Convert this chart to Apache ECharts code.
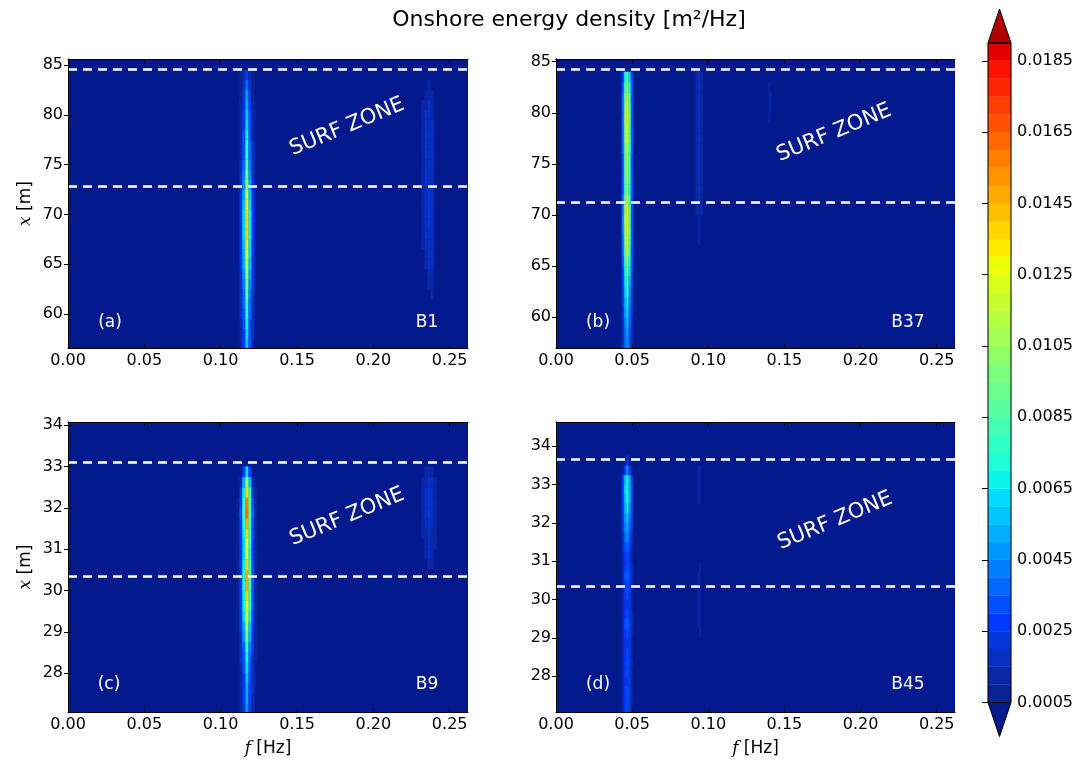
<!DOCTYPE html>
<html><head><meta charset="utf-8">
<script src="https://cdn.jsdelivr.net/npm/echarts@6/dist/echarts.min.js"></script>
<style>html,body{margin:0;padding:0;background:#fff}#c{width:1091px;height:761px}</style>
</head><body><div id="c"></div>
<script>
// ---------------- DATA ----------------
const xTicks = [0, 0.05, 0.10, 0.15, 0.20, 0.25];
const yTicksTop = [60, 65, 70, 75, 80, 85];
const yTicksBottom = [28, 29, 30, 31, 32, 33, 34];
const cbTicks = [0.0005, 0.0025, 0.0045, 0.0065, 0.0085, 0.0105, 0.0125, 0.0145, 0.0165, 0.0185];
const levels = [0.0005,0.0010,0.0015,0.0020,0.0025,0.0030,0.0035,0.0040,0.0045,0.0050,0.0055,0.0060,0.0065,0.0070,0.0075,0.0080,0.0085,0.0090,0.0095,0.0100,0.0105,0.0110,0.0115,0.0120,0.0125,0.0130,0.0135,0.0140,0.0145,0.0150,0.0155,0.0160,0.0165,0.0170,0.0175,0.0180,0.0185,0.0190];

// Panel (a) B1 : main peak near 0.117 Hz
const xA = [57,58,59,60,61,62,63,64,65,66,67,68,69,70,71,72,73,74,75,76,77,78,79,80,81,82,83,84];
const fA = [0.1133,0.1153,0.1173,0.1193,0.1213];
const eA = [
 [0.0012,0.0013,0.0014,0.0015,0.0016,0.0017,0.0018,0.0019,0.0020,0.0021,0.0022,0.0022,0.0023,0.0022,0.0022,0.0020,0.0018,0.0016,0.0015,0.0014,0.0013,0.0012,0.0012,0.0011,0.0010,0.0009,0.0008,0.0006],
 [0.0026,0.0028,0.0030,0.0032,0.0035,0.0038,0.0042,0.0046,0.0050,0.0054,0.0057,0.0060,0.0061,0.0060,0.0057,0.0051,0.0045,0.0040,0.0037,0.0034,0.0032,0.0030,0.0029,0.0027,0.0024,0.0021,0.0017,0.0012],
 [0.0055,0.0060,0.0066,0.0071,0.0077,0.0085,0.0094,0.0104,0.0114,0.0124,0.0130,0.0136,0.0138,0.0135,0.0130,0.0116,0.0100,0.0090,0.0082,0.0076,0.0071,0.0067,0.0063,0.0058,0.0052,0.0046,0.0038,0.0026],
 [0.0030,0.0032,0.0034,0.0036,0.0039,0.0043,0.0047,0.0052,0.0056,0.0060,0.0063,0.0066,0.0067,0.0066,0.0063,0.0057,0.0050,0.0045,0.0041,0.0038,0.0036,0.0034,0.0032,0.0030,0.0027,0.0023,0.0019,0.0013],
 [0.0014,0.0015,0.0016,0.0017,0.0018,0.0019,0.0020,0.0021,0.0022,0.0023,0.0024,0.0025,0.0025,0.0025,0.0024,0.0022,0.0020,0.0018,0.0017,0.0016,0.0015,0.0014,0.0013,0.0012,0.0011,0.0009,0.0008,0.0006]
];
// Panel (a) harmonic near 0.236 Hz
const xA2 = [62,63,64,65,66,67,68,69,70,71,72,73,74,75,76,77,78,79,80,81,82,83];
const fA2 = [0.2325,0.2345,0.2365,0.2385];
const eA2 = [
 [0,0,0,0,0,0.0011,0.0011,0.0011,0.0011,0.0011,0.0011,0.0011,0.0011,0.0011,0.0011,0.0011,0.0011,0.0011,0.0011,0.0011,0,0],
 [0,0,0,0.0011,0.0011,0.0016,0.0016,0.0016,0.0016,0.0016,0.0016,0.0016,0.0016,0.0016,0.0016,0.0016,0.0016,0.0016,0.0016,0.0011,0.0011,0],
 [0,0.0011,0.0011,0.0016,0.0016,0.0017,0.0017,0.0021,0.0021,0.0021,0.0021,0.0017,0.0017,0.0017,0.0017,0.0017,0.0017,0.0017,0.0016,0.0016,0.0011,0.0011],
 [0.0011,0.0012,0.0012,0.0016,0.0016,0.0016,0.0016,0.0019,0.0019,0.0019,0.0019,0.0016,0.0016,0.0016,0.0016,0.0016,0.0016,0.0016,0.0013,0.0013,0.0011,0]
];

// Panel (b) B37 : main peak near 0.047 Hz
const xB = [57.5,58.5,59.5,60.5,61.5,62.5,63.5,64.5,65.5,66.5,67.5,68.5,69.5,70.5,71.5,72.5,73.5,74.5,75.5,76.5,77.5,78.5,79.5,80.5,81.5,82.5,83.5];
const fB = [0.0440,0.0455,0.0470,0.0485,0.0500];
const eB = [
 [0.0015,0.0015,0.0017,0.0018,0.0020,0.0023,0.0025,0.0028,0.0031,0.0035,0.0038,0.0040,0.0040,0.0039,0.0035,0.0032,0.0032,0.0033,0.0034,0.0036,0.0038,0.0039,0.0039,0.0038,0.0035,0.0031,0.0026],
 [0.0036,0.0038,0.0041,0.0045,0.0051,0.0056,0.0061,0.0069,0.0078,0.0087,0.0094,0.0099,0.0100,0.0097,0.0087,0.0079,0.0080,0.0082,0.0085,0.0089,0.0094,0.0097,0.0097,0.0094,0.0087,0.0076,0.0066],
 [0.0048,0.0050,0.0055,0.0060,0.0068,0.0075,0.0082,0.0092,0.0104,0.0116,0.0126,0.0132,0.0134,0.0130,0.0116,0.0106,0.0107,0.0110,0.0114,0.0119,0.0125,0.0129,0.0130,0.0126,0.0116,0.0102,0.0088],
 [0.0031,0.0033,0.0036,0.0039,0.0044,0.0049,0.0053,0.0060,0.0068,0.0075,0.0082,0.0086,0.0087,0.0085,0.0075,0.0069,0.0070,0.0072,0.0074,0.0077,0.0081,0.0084,0.0085,0.0082,0.0075,0.0066,0.0057],
 [0.0012,0.0013,0.0014,0.0015,0.0017,0.0019,0.0021,0.0023,0.0026,0.0029,0.0032,0.0033,0.0034,0.0033,0.0029,0.0027,0.0027,0.0028,0.0029,0.0030,0.0031,0.0032,0.0033,0.0032,0.0029,0.0026,0.0022]
];
// Panel (b) harmonics near 0.094 Hz and 0.1405 Hz
const xB2 = [67.5,68.5,69.5,70.5,71.5,72.5,73.5,74.5,75.5,76.5,77.5,78.5,79.5,80.5,81.5,82.5,83.5];
const fB2 = [0.0925,0.0940,0.0955];
const eB2 = [
 [0,0,0,0.0011,0.0012,0.0012,0.0012,0.0012,0.0012,0.0012,0.0012,0.0012,0.0012,0.0012,0.0012,0.0012,0.0012],
 [0.0011,0.0011,0.0011,0.0013,0.0016,0.0016,0.0016,0.0016,0.0016,0.0016,0.0016,0.0016,0.0016,0.0016,0.0016,0.0016,0.0016],
 [0,0,0,0.0011,0.0012,0.0012,0.0012,0.0012,0.0012,0.0012,0.0012,0.0012,0.0012,0.0012,0.0012,0.0012,0.0012]
];
const xB3 = [79.5,80.5,81.5,82.5];
const fB3 = [0.1400,0.1410];
const eB3 = [[0.0011,0.0012,0.0012,0.0011],[0,0.0011,0.0011,0]];

// Panel (c) B9 : main peak near 0.117 Hz
const xC = [27.125,27.375,27.625,27.875,28.125,28.375,28.625,28.875,29.125,29.375,29.625,29.875,30.125,30.375,30.625,30.875,31.125,31.375,31.625,31.875,32.125,32.375,32.625,32.875];
const fC = [0.1113,0.1133,0.1153,0.1173,0.1193,0.1213,0.1233];
const eC = [
 [0,0,0,0,0,0,0,0,0.0007,0.0007,0.0007,0.0007,0.0007,0.0007,0.0007,0.0007,0.0007,0.0007,0.0007,0.0007,0.0007,0,0,0],
 [0.0012,0.0012,0.0013,0.0013,0.0014,0.0015,0.0017,0.0019,0.0021,0.0023,0.0025,0.0026,0.0028,0.0028,0.0026,0.0024,0.0025,0.0026,0.0028,0.0030,0.0029,0.0021,0.0010,0],
 [0.0024,0.0025,0.0026,0.0028,0.0030,0.0034,0.0039,0.0046,0.0054,0.0060,0.0065,0.0069,0.0074,0.0073,0.0068,0.0063,0.0064,0.0069,0.0074,0.0081,0.0079,0.0069,0.0050,0.0025],
 [0.0048,0.0050,0.0052,0.0055,0.0060,0.0068,0.0078,0.0092,0.0108,0.0120,0.0130,0.0138,0.0148,0.0146,0.0136,0.0126,0.0128,0.0138,0.0148,0.0162,0.0158,0.0138,0.0105,0.0062],
 [0.0027,0.0028,0.0029,0.0030,0.0033,0.0037,0.0043,0.0051,0.0059,0.0066,0.0072,0.0076,0.0081,0.0080,0.0075,0.0069,0.0070,0.0076,0.0081,0.0089,0.0087,0.0076,0.0055,0.0028],
 [0.0014,0.0014,0.0015,0.0015,0.0016,0.0018,0.0020,0.0023,0.0026,0.0028,0.0030,0.0031,0.0033,0.0033,0.0031,0.0029,0.0029,0.0031,0.0033,0.0035,0.0034,0.0024,0.0011,0],
 [0,0,0,0,0,0.0007,0.0007,0.0007,0.0007,0.0007,0.0007,0.0007,0.0007,0.0007,0.0007,0.0007,0.0007,0.0007,0.0007,0.0007,0.0007,0.0007,0,0]
];
// Panel (c) harmonic near 0.237 Hz
const xC2 = [30.625,30.875,31.125,31.375,31.625,31.875,32.125,32.375,32.625,32.875];
const fC2 = [0.2325,0.2345,0.2365,0.2385,0.2405];
const eC2 = [
 [0,0,0,0.0011,0.0011,0.0011,0.0011,0.0011,0.0011,0],
 [0,0.0012,0.0012,0.0013,0.0016,0.0016,0.0016,0.0016,0.0013,0.0011],
 [0.0012,0.0015,0.0015,0.0018,0.0018,0.0022,0.0022,0.0022,0.0018,0.0012],
 [0.0012,0.0014,0.0014,0.0014,0.0017,0.0017,0.0017,0.0017,0.0017,0.0011],
 [0,0,0.0011,0.0011,0.0011,0.0011,0.0011,0.0011,0.0011,0]
];

// Panel (d) B45 : main peak near 0.047 Hz
const xD = [27.125,27.375,27.625,27.875,28.125,28.375,28.625,28.875,29.125,29.375,29.625,29.875,30.125,30.375,30.625,30.875,31.125,31.375,31.625,31.875,32.125,32.375,32.625,32.875,33.125,33.375,33.625];
const fD = [0.0440,0.0455,0.0470,0.0485,0.0500];
const eD = [
 [0.0012,0.0013,0.0012,0.0011,0.0012,0.0013,0.0012,0.0011,0.0013,0.0014,0.0013,0.0011,0.0012,0.0013,0.0014,0.0013,0.0012,0.0015,0.0018,0.0020,0.0023,0.0026,0.0028,0.0029,0.0025,0,0],
 [0.0025,0.0027,0.0025,0.0023,0.0025,0.0028,0.0025,0.0023,0.0027,0.0030,0.0027,0.0023,0.0025,0.0028,0.0030,0.0028,0.0025,0.0032,0.0038,0.0042,0.0048,0.0054,0.0058,0.0060,0.0056,0.0025,0],
 [0.0030,0.0032,0.0030,0.0027,0.0030,0.0033,0.0030,0.0027,0.0032,0.0035,0.0032,0.0027,0.0030,0.0033,0.0035,0.0033,0.0030,0.0038,0.0045,0.0050,0.0058,0.0065,0.0070,0.0072,0.0068,0.0045,0.0020],
 [0.0023,0.0024,0.0023,0.0020,0.0023,0.0025,0.0023,0.0020,0.0024,0.0027,0.0024,0.0020,0.0023,0.0025,0.0027,0.0025,0.0023,0.0029,0.0034,0.0038,0.0044,0.0049,0.0053,0.0054,0.0050,0.0020,0],
 [0.0009,0.0010,0.0009,0.0008,0.0009,0.0010,0.0009,0.0008,0.0010,0.0011,0.0010,0.0008,0.0009,0.0010,0.0011,0.0010,0.0009,0.0011,0.0014,0.0015,0.0017,0.0020,0.0021,0.0022,0.0018,0,0]
];
// Panel (d) harmonic traces near 0.094 Hz
const xD2 = [32.625,32.875,33.125,33.375];
const fD2 = [0.0935,0.0945];
const eD2 = [[0.0011,0.0014,0.0014,0.0011],[0.0011,0.0014,0.0014,0.0011]];
const xD3 = [29.125,29.375,29.625,29.875,30.125,30.375,30.625,30.875];
const fD3 = [0.0935,0.0945];
const eD3 = [[0,0.0011,0.0011,0.0011,0.0011,0.0011,0.0011,0],[0.0011,0.0013,0.0013,0.0013,0.0013,0.0013,0.0013,0.0011]];

// surf zone boundaries [m]
const surfA = [84.6, 72.8];
const surfB = [84.25, 71.3];
const surfC = [33.1, 30.35];
const surfD = [33.65, 30.35];

// ---------------- STYLE ----------------
const FONT = 'DejaVu Sans';
const UNDER = '#031a8e';
function seg(t, pts) {
  for (let k = 1; k < pts.length; k++) {
    if (t <= pts[k][0]) {
      const a = pts[k-1], b = pts[k];
      return a[1] + (b[1]-a[1]) * (t-a[0]) / (b[0]-a[0]);
    }
  }
  return pts[pts.length-1][1];
}
const JR = [[0,0],[0.35,0],[0.66,1],[0.89,1],[1,0.5]];
const JG = [[0,0],[0.125,0],[0.375,1],[0.64,1],[0.91,0],[1,0]];
const JB = [[0,0.5],[0.11,1],[0.34,1],[0.65,0],[1,0]];
function jet(t) {
  const c = v => Math.round(Math.max(0, Math.min(1, v)) * 255);
  return 'rgb(' + c(seg(t,JR)) + ',' + c(seg(t,JG)) + ',' + c(seg(t,JB)) + ')';
}
const nBands = levels.length - 1;
// darkest bands as seen on the reference colour bar, the rest from the jet map
const lowBands = ['#0a2392', '#0a28a6', '#0731c0', '#0438dc'];
const bandColors = [];
for (let i = 0; i < nBands; i++) bandColors.push(i < lowBands.length ? lowBands[i] : jet(0.089 + 0.0229 * i));
const OVER = '#b20000';
function colorFor(v) {
  let k = -1;
  for (let i = 0; i < levels.length; i++) if (v >= levels[i] - 1e-12) k = i;
  if (k < 0) return null;
  if (k >= nBands) return OVER;
  return bandColors[k];
}

function cells(patches) {
  const out = [];
  patches.forEach(([rows, freqs, E]) => {
    const hw = freqs.length > 1 ? (freqs[1]-freqs[0]) / 2 : 0.0005;
    const hh = rows.length > 1 ? (rows[1]-rows[0]) / 2 : 0.5;
    freqs.forEach((f, j) => rows.forEach((x, i) => {
      const v = E[j][i];
      if (v >= levels[0]) out.push([f, x, v, hw, hh]);
    }));
  });
  return out;
}
function renderCell(params, api) {
  const f = api.value(0), x = api.value(1), v = api.value(2), hw = api.value(3), hh = api.value(4);
  const p0 = api.coord([f - hw, x + hh]);
  const p1 = api.coord([f + hw, x - hh]);
  const r = echarts.graphic.clipRectByRect(
    {x: p0[0], y: p0[1], width: p1[0]-p0[0], height: p1[1]-p0[1]},
    {x: params.coordSys.x, y: params.coordSys.y, width: params.coordSys.width, height: params.coordSys.height});
  if (!r) return null;
  const c = colorFor(v);
  return {type: 'rect', shape: r, style: {fill: c, stroke: c, lineWidth: 0.4}};
}

const panels = [
  {grid: {left: 68, top: 59, width: 400, height: 289}, ymin: 56.6, ymax: 85.6, yt: yTicksTop,
   patches: [[xA,fA,eA],[xA2,fA2,eA2]], surf: surfA, xname: false, yname: true},
  {grid: {left: 556, top: 59, width: 399, height: 289}, ymin: 57.0, ymax: 85.26, yt: yTicksTop,
   patches: [[xB,fB,eB],[xB2,fB2,eB2],[xB3,fB3,eB3]], surf: surfB, xname: false, yname: false},
  {grid: {left: 68, top: 422, width: 400, height: 290}, ymin: 27.06, ymax: 34.08, yt: yTicksBottom,
   patches: [[xC,fC,eC],[xC2,fC2,eC2]], surf: surfC, xname: true, yname: true},
  {grid: {left: 556, top: 422, width: 399, height: 290}, ymin: 27.07, ymax: 34.63, yt: yTicksBottom,
   patches: [[xD,fD,eD],[xD2,fD2,eD2],[xD3,fD3,eD3]], surf: surfD, xname: true, yname: false}
];

const grids = [], xAxes = [], yAxes = [], series = [];
const tickStyle = {inside: true, length: 4, lineStyle: {color: '#000', width: 1}};
const lblStyle = {color: '#000', fontSize: 16, fontFamily: FONT};
const axLine = {show: true, lineStyle: {color: '#000', width: 1}};
panels.forEach((p, k) => {
  grids.push(Object.assign({show: true, backgroundColor: UNDER, borderWidth: 0}, p.grid));
  const xb = {gridIndex: k, type: 'value', min: 0, max: 0.262, position: 'bottom', z: 5,
    axisLine: axLine, splitLine: {show: false},
    axisTick: Object.assign({customValues: xTicks}, tickStyle),
    axisLabel: Object.assign({customValues: xTicks, formatter: v => v.toFixed(2), margin: 5}, lblStyle)};
  if (p.xname) {
    xb.name = '{i|f} [Hz]'; xb.nameLocation = 'middle'; xb.nameGap = 28;
    xb.nameTextStyle = {color: '#000', fontSize: 17, fontFamily: FONT,
      rich: {i: {fontStyle: 'italic', fontFamily: 'DejaVu Serif', fontSize: 17, color: '#000'}}};
  }
  xAxes.push(xb);
  xAxes.push({gridIndex: k, type: 'value', min: 0, max: 0.262, position: 'top', z: 5,
    axisLine: axLine, splitLine: {show: false},
    axisTick: Object.assign({customValues: xTicks}, tickStyle), axisLabel: {show: false}});
  const yl = {gridIndex: k, type: 'value', min: p.ymin, max: p.ymax, position: 'left', z: 5,
    axisLine: axLine, splitLine: {show: false},
    axisTick: Object.assign({customValues: p.yt}, tickStyle),
    axisLabel: Object.assign({customValues: p.yt, formatter: v => String(v), margin: 5}, lblStyle)};
  if (p.yname) {
    yl.name = '{i|x} [m]'; yl.nameLocation = 'middle'; yl.nameGap = 34; yl.nameRotate = 90;
    yl.nameTextStyle = {color: '#000', fontSize: 17, fontFamily: FONT,
      rich: {i: {fontStyle: 'italic', fontFamily: 'DejaVu Serif', fontSize: 17, color: '#000'}}};
  }
  yAxes.push(yl);
  yAxes.push({gridIndex: k, type: 'value', min: p.ymin, max: p.ymax, position: 'right', z: 5,
    axisLine: axLine, splitLine: {show: false},
    axisTick: Object.assign({customValues: p.yt}, tickStyle), axisLabel: {show: false}});
  series.push({type: 'custom', xAxisIndex: 2*k, yAxisIndex: 2*k, z: 2, silent: true,
    renderItem: renderCell, data: cells(p.patches), encode: {x: 0, y: 1}, animation: false});
  series.push({type: 'line', xAxisIndex: 2*k, yAxisIndex: 2*k, z: 3, data: [], silent: true,
    markLine: {symbol: 'none', silent: true, animation: false, label: {show: false},
      lineStyle: {color: '#ffffff', type: [9, 6], width: 2.5},
      data: p.surf.map(v => ({yAxis: v}))}});
});

// Colorbar
const cbIdx = panels.length;
grids.push({left: 988, top: 43, width: 23, height: 659.5, show: false});
xAxes.push({gridIndex: cbIdx, type: 'value', min: 0, max: 1, show: false});
yAxes.push({gridIndex: cbIdx, type: 'value', min: levels[0], max: levels[levels.length-1], position: 'right',
  axisLine: {show: false}, splitLine: {show: false}, z: 5,
  axisTick: {inside: true, length: 6, customValues: cbTicks, lineStyle: {color: '#000', width: 1}},
  axisLabel: {customValues: cbTicks, formatter: v => v.toFixed(4), margin: 6, color: '#000', fontSize: 16, fontFamily: FONT}});
const cbData = [];
for (let i = 0; i < nBands; i++) cbData.push([levels[i], levels[i+1], i]);
series.push({type: 'custom', xAxisIndex: 2*cbIdx, yAxisIndex: 2*cbIdx, silent: true, animation: false,
  renderItem: (params, api) => {
    const lo = api.value(0), hi = api.value(1), i = api.value(2);
    const p0 = api.coord([0, hi]), p1 = api.coord([1, lo]);
    return {type: 'rect', shape: {x: p0[0], y: p0[1], width: p1[0]-p0[0], height: p1[1]-p0[1]},
      style: {fill: bandColors[i], stroke: bandColors[i], lineWidth: 0.3}};
  }, data: cbData});
series.push({type: 'custom', xAxisIndex: 2*cbIdx, yAxisIndex: 2*cbIdx, silent: true, animation: false, z: 4,
  renderItem: (params, api) => {
    const tl = api.coord([0, levels[levels.length-1]]), br = api.coord([1, levels[0]]);
    const mid = (tl[0] + br[0]) / 2, ext = 34;
    return {type: 'group', children: [
      {type: 'polygon', shape: {points: [[tl[0], tl[1]], [br[0], tl[1]], [mid, tl[1]-ext]]},
        style: {fill: OVER, stroke: '#000', lineWidth: 1}},
      {type: 'polygon', shape: {points: [[tl[0], br[1]], [br[0], br[1]], [mid, br[1]+ext]]},
        style: {fill: UNDER, stroke: '#000', lineWidth: 1}},
      {type: 'rect', shape: {x: tl[0], y: tl[1], width: br[0]-tl[0], height: br[1]-tl[1]},
        style: {fill: 'none', stroke: '#000', lineWidth: 1}}
    ]};
  }, data: [[0]]});

function txt(x, y, s, size, rot) {
  return {type: 'text', x: x, y: y, z: 100, rotation: (rot || 0) * Math.PI / 180, silent: true,
    style: {text: s, fill: '#fff', font: size + 'px "' + FONT + '"', fontSize: size, fontFamily: FONT,
      align: 'center', verticalAlign: 'middle', textAlign: 'center', textVerticalAlign: 'middle'}};
}
const graphics = [
  {type: 'text', x: 569, y: 20, z: 100, silent: true,
   style: {text: 'Onshore energy density [m²/Hz]', fill: '#000', fontSize: 22, fontFamily: FONT,
     font: '22px "DejaVu Sans"', align: 'center', verticalAlign: 'middle', textAlign: 'center', textVerticalAlign: 'middle'}},
  txt(347, 127, 'SURF ZONE', 21, 22.5), txt(834, 133, 'SURF ZONE', 21, 22.5),
  txt(347, 517, 'SURF ZONE', 21, 22.5), txt(835, 521, 'SURF ZONE', 21, 22.5),
  txt(110, 323, '(a)', 17), txt(427, 323, 'B1', 17),
  txt(598, 323, '(b)', 17), txt(908, 323, 'B37', 17),
  txt(109, 685, '(c)', 17), txt(427, 685, 'B9', 17),
  txt(598, 685, '(d)', 17), txt(908, 685, 'B45', 17)
];

const chart = echarts.init(document.getElementById('c'), null, {renderer: 'canvas'});
chart.setOption({
  animation: false,
  backgroundColor: '#ffffff',
  textStyle: {fontFamily: FONT},
  grid: grids, xAxis: xAxes, yAxis: yAxes, series: series,
  graphic: {elements: graphics}
});
</script></body></html>
